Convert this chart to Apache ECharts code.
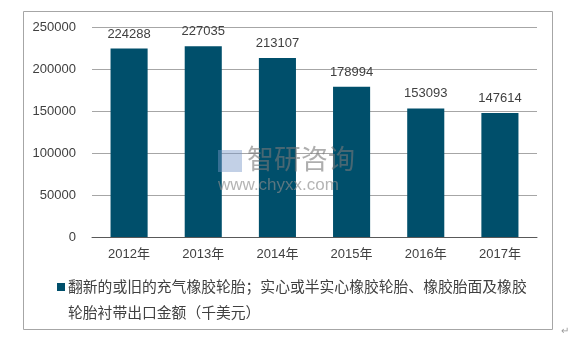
<!DOCTYPE html>
<html>
<head>
<meta charset="utf-8">
<script src="https://cdn.jsdelivr.net/npm/echarts@6/dist/echarts.min.js"></script>
<style>
html,body{margin:0;padding:0;background:#fff;}
#c{width:577px;height:343px;}
</style>
</head>
<body>
<div id="c"></div>
<script>
var categories = ['2012年', '2013年', '2014年', '2015年', '2016年', '2017年'];
var seriesName = '翻新的或旧的充气橡胶轮胎；实心或半实心橡胶轮胎、橡胶胎面及橡胶轮胎衬带出口金额（千美元）';
var values = [224288, 227035, 213107, 178994, 153093, 147614];
var yTicks = [0, 50000, 100000, 150000, 200000, 250000];

var FONT = '"Liberation Sans", Arial, "Noto Sans CJK SC", sans-serif';
var BAR = '#004f6b';
var chart = echarts.init(document.getElementById('c'), null, {renderer: 'canvas'});
chart.setOption({
  animation: false,
  backgroundColor: '#ffffff',
  textStyle: {fontFamily: FONT},
  grid: {left: 92, right: 40, top: 27, bottom: 106, containLabel: false},
  xAxis: {
    type: 'category',
    data: categories,
    axisLine: {lineStyle: {color: '#595959', width: 1}},
    axisTick: {show: false},
    axisLabel: {color: '#404040', fontSize: 13, margin: 11, fontFamily: FONT}
  },
  yAxis: {
    type: 'value',
    min: yTicks[0],
    max: yTicks[yTicks.length - 1],
    interval: yTicks[1] - yTicks[0],
    axisLine: {show: false},
    axisTick: {show: false},
    axisLabel: {color: '#404040', fontSize: 13, margin: 16, fontFamily: FONT, formatter: function (v) { return String(v); }},
    splitLine: {lineStyle: {color: '#a6a6a6', width: 1}}
  },
  legend: {
    left: 50,
    top: 268,
    icon: 'rect',
    itemWidth: 8,
    itemHeight: 8,
    itemStyle: {opacity: 0},
    data: [seriesName],
    textStyle: {
      color: '#404040',
      fontSize: 14.8,
      lineHeight: 26,
      width: 466,
      overflow: 'break',
      fontFamily: '"Noto Sans CJK SC", sans-serif'
    }
  },
  series: [{
    name: seriesName,
    type: 'bar',
    data: values,
    barWidth: '50%',
    itemStyle: {color: BAR},
    label: {
      show: true,
      position: 'top',
      distance: 8,
      color: '#404040',
      fontSize: 13,
      fontFamily: FONT
    }
  }],
  graphic: [
    {type: 'rect', shape: {x: 23.5, y: 11.5, width: 529, height: 318}, style: {fill: 'none', stroke: '#a6a6a6', lineWidth: 1}, z: 100},
    {type: 'rect', shape: {x: 57, y: 283, width: 8, height: 8}, style: {fill: BAR}, z: 100},
    {type: 'text', left: 247, top: 145, style: {text: '智研咨询', fontSize: 27, fill: 'rgba(120,120,120,0.6)', fontFamily: '"Noto Sans CJK SC", sans-serif'}, z: 100},
    {type: 'text', left: 218, top: 177, style: {text: 'www.chyxx.com', fontSize: 17, fill: 'rgba(140,140,140,0.65)', fontFamily: FONT}, z: 100},
    {type: 'rect', shape: {x: 218, y: 150, width: 24, height: 22}, style: {fill: 'rgba(120,150,200,0.45)'}, z: 100},
    {type: 'text', left: 561, top: 326, style: {text: '↵', fontSize: 10, fill: '#999999', fontFamily: FONT}, z: 100}
  ]
});
</script>
</body>
</html>
